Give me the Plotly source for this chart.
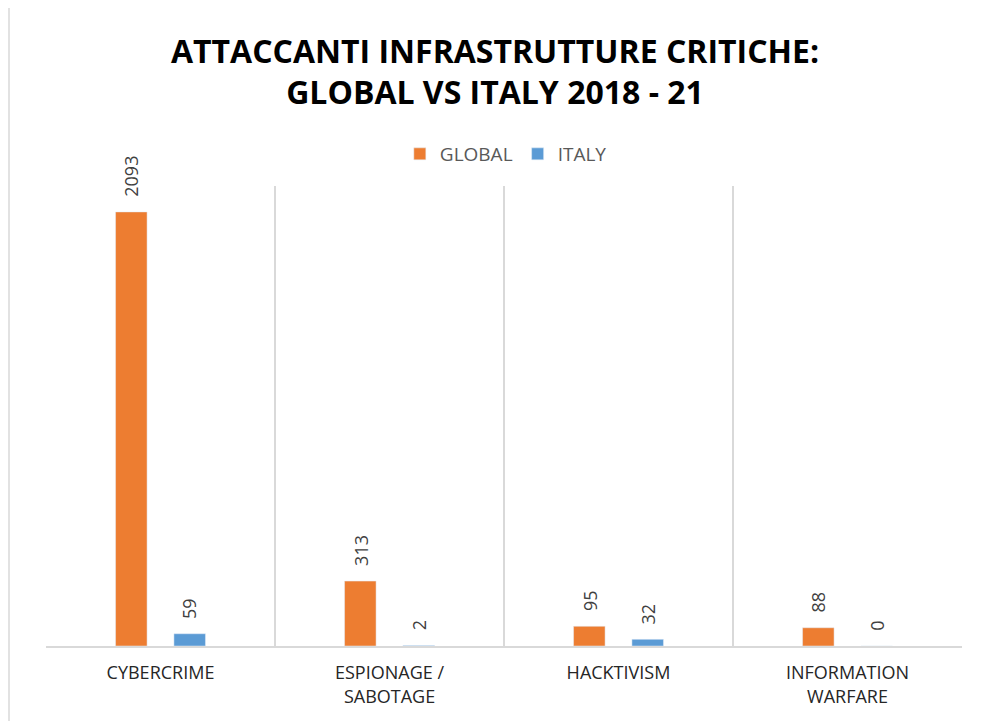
import plotly.graph_objects as go

categories = ["CYBERCRIME", "ESPIONAGE /<br>SABOTAGE", "HACKTIVISM", "INFORMATION<br>WARFARE"]
global_vals = [2093, 313, 95, 88]
italy_vals = [59, 2, 32, 0]

ORANGE = "#ED7D31"
BLUE = "#5B9BD5"
FONT = "Open Sans, Liberation Sans, sans-serif"

BARGAP = 0.49
SLOT = (1 - BARGAP) / 2

fig = go.Figure()
fig.add_trace(go.Bar(name="GLOBAL", x=categories, y=global_vals, marker_color=ORANGE))
fig.add_trace(go.Bar(name="ITALY", x=categories, y=italy_vals, marker_color=BLUE))

annotations = []
for series, sign in ((global_vals, -1), (italy_vals, 1)):
    for i, v in enumerate(series):
        annotations.append(dict(
            x=i + sign * SLOT / 2, y=v, xref="x", yref="y", text=str(v),
            showarrow=False, textangle=-90, xanchor="center", yanchor="bottom", yshift=13,
            font=dict(family=FONT, size=18, color="#404040"),
        ))

fig.update_layout(
    width=974, height=713,
    paper_bgcolor="white", plot_bgcolor="white",
    margin=dict(l=38, r=20, t=178, b=75),
    barmode="group", bargap=BARGAP, bargroupgap=0.46,
    title=dict(
        text="<b>ATTACCANTI INFRASTRUTTURE CRITICHE:<br>GLOBAL VS ITALY 2018 - 21</b>",
        x=0.5, xanchor="center", y=1 - 54.5 / 713, yanchor="middle", yref="container",
        font=dict(family=FONT, size=32, color="#000000"),
    ),
    legend=dict(
        orientation="h", x=0.502, xanchor="center", y=1 + (186 - 154) / 460, yanchor="middle",
        font=dict(family=FONT, size=19, color="#595959"), itemwidth=30, traceorder="normal",
    ),
    xaxis=dict(
        type="category", tickson="boundaries", showgrid=True, gridcolor="#D9D9D9", gridwidth=1.5,
        showline=True, linecolor="#D9D9D9", linewidth=1.5, ticks="",
        tickfont=dict(family=FONT, size=18, color="#262626"), ticklabelstandoff=10,
        zeroline=False,
    ),
    yaxis=dict(range=[0, 2218], visible=False, showgrid=False, zeroline=False),
    annotations=annotations,
    shapes=[dict(
        type="rect", xref="paper", yref="paper",
        x0=(9 - 46) / 916, x1=1.1, y0=-0.3, y1=1 + (186 - 7) / 460,
        line=dict(color="#D9D9D9", width=1.5), fillcolor="rgba(0,0,0,0)", layer="below",
    )],
)

fig.write_html("out.html")
